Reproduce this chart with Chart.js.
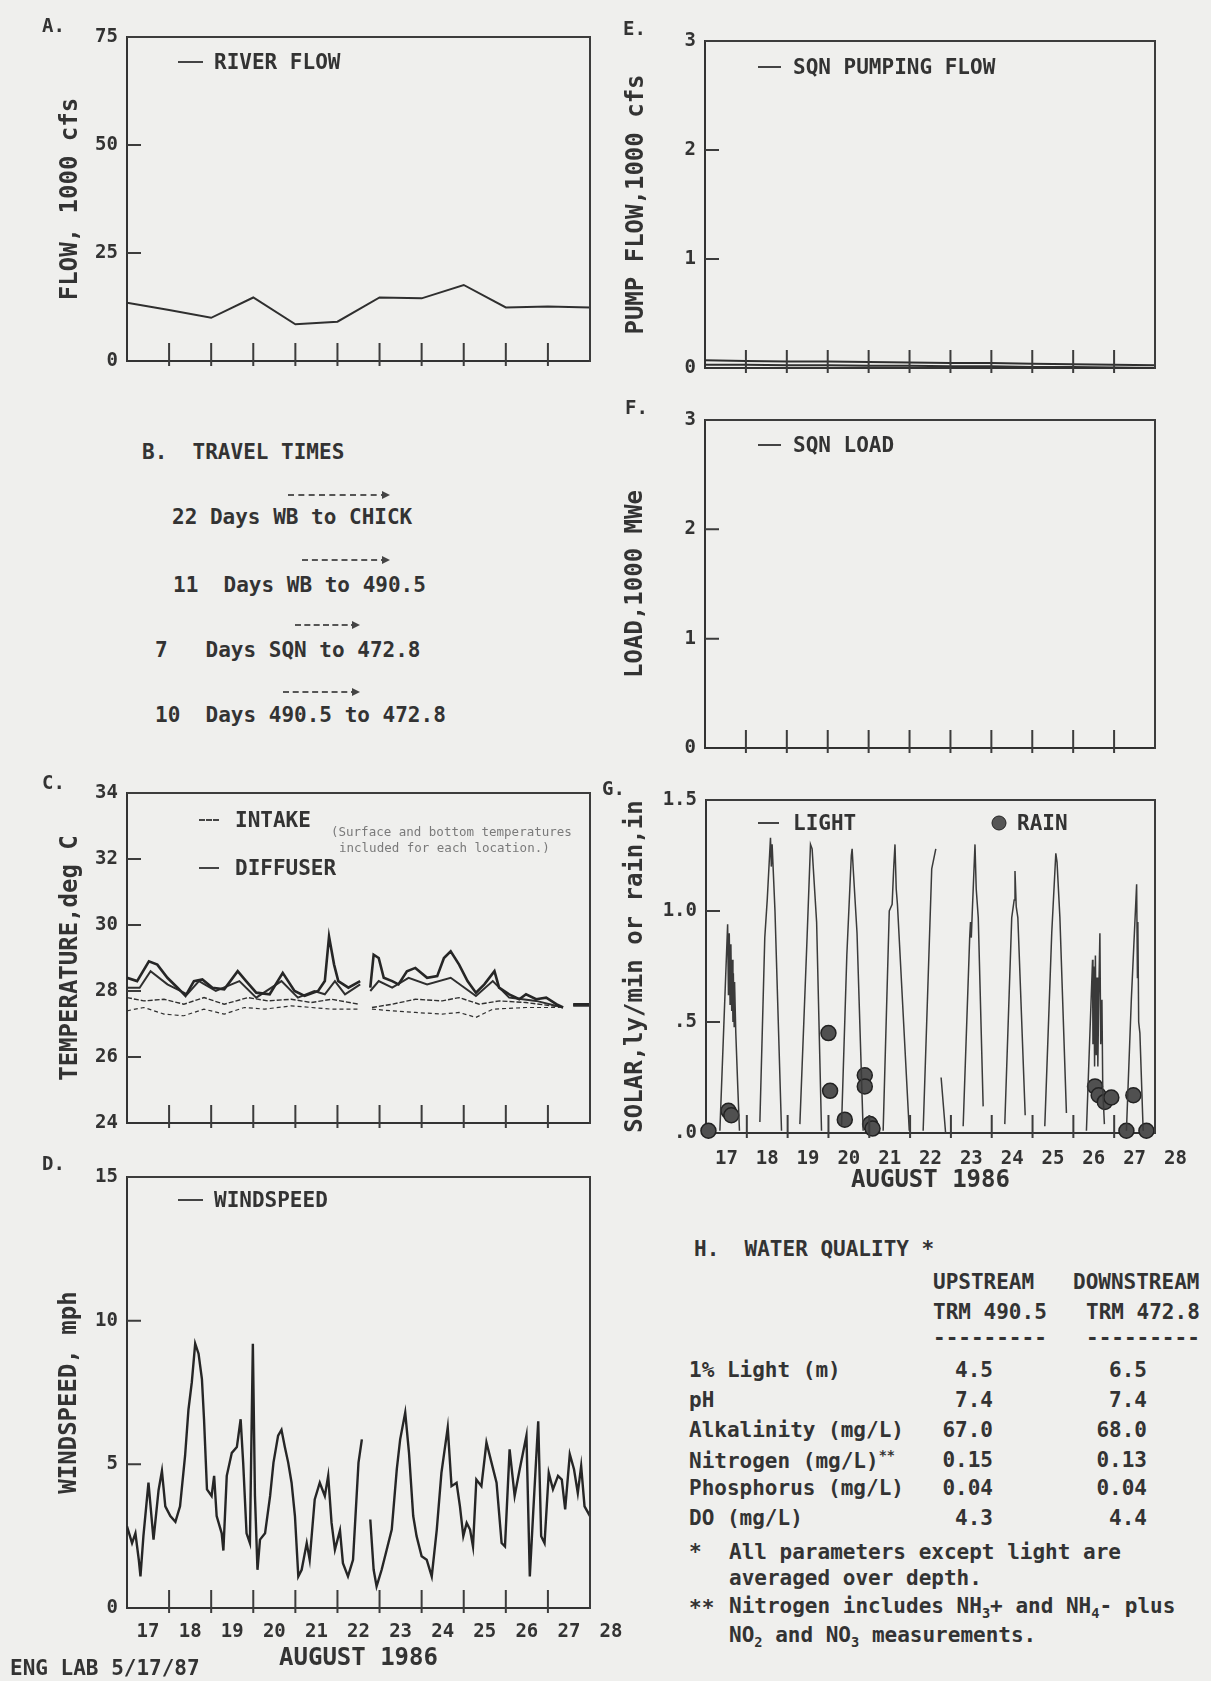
<!DOCTYPE html>
<html><head><meta charset="utf-8">
<script src="https://cdn.jsdelivr.net/npm/chart.js@4.4.1/dist/chart.umd.min.js"></script>
<style>
html,body{margin:0;padding:0;background:#efefed;}
#page{position:relative;width:1211px;height:1681px;overflow:hidden;background:#efefed;font-family:"DejaVu Sans Mono",monospace;font-weight:bold;color:#333;}
canvas{position:absolute;}
.t{position:absolute;white-space:pre;line-height:1;transform:translateY(-50%);}
.r{transform:translate(-100%,-50%);}
.ln{position:absolute;height:0;border-top:2px solid #444;}
.dl{border-top-style:dashed;}
.arrow{position:absolute;height:0;border-top:2px dashed #555;}
.arrow::after{content:'';position:absolute;right:-3px;top:-5px;border-left:8px solid #444;border-top:4px solid transparent;border-bottom:4px solid transparent;}
.dot{position:absolute;width:13px;height:13px;border-radius:50%;background:#555;border:1.5px solid #222;transform:translate(-50%,-50%);}
sub,sup{font-size:65%;}
</style></head><body><div id="page">
<canvas id="cA"></canvas><canvas id="cE"></canvas><canvas id="cF"></canvas>
<canvas id="cC"></canvas><canvas id="cG"></canvas><canvas id="cD"></canvas>
</div>
<script>
// ---------------- data ----------------
const dayLabels = ['17','18','19','20','21','22','23','24','25','26','27','28'];
const flowTicks = ['0','25','50','75'];
const pumpTicks = ['0','1','2','3'];
const loadTicks = ['0','1','2','3'];
const tempTicks = ['24','26','28','30','32','34'];
const solarTicks = ['.0','.5','1.0','1.5'];
const windTicks = ['0','5','10','15'];

const flowDays = [0,1,2,3,4,5,6,7,8,9,10,11];
const riverFlow = [13.5,11.8,10.0,14.7,8.5,9.1,14.7,14.5,17.6,12.4,12.6,12.4];
const pumpFlowA = [0.07,0.065,0.06,0.06,0.055,0.05,0.045,0.045,0.04,0.035,0.03,0.025];
const pumpFlowB = [0.03,0.03,0.025,0.025,0.02,0.02,0.015,0.015,0.01,0.01,0.005,0.0];
const sqnLoad = [0,0,0,0,0,0,0,0,0,0,0,0];

const diffuserSurface = [[0,28.4],[0.24,28.3],[0.52,28.9],[0.72,28.8],[0.96,28.4],[1.2,28.1],[1.39,27.85],[1.59,28.3],[1.79,28.35],[2.03,28.1],[2.31,28.05],[2.63,28.6],[2.83,28.3],[3.07,27.95],[3.39,27.9],[3.7,28.55],[3.98,28.0],[4.22,27.85],[4.54,28.0],[4.7,28.3],[4.8,29.65],[4.92,28.8],[5.02,28.3],[5.26,28.1],[5.54,28.3],[5.66,null],[5.78,28.1],[5.86,29.1],[5.98,29.0],[6.1,28.4],[6.3,28.3],[6.45,28.2],[6.65,28.6],[6.85,28.7],[7.13,28.4],[7.37,28.45],[7.53,29.0],[7.69,29.2],[7.89,28.8],[8.09,28.3],[8.29,27.95],[8.49,28.2],[8.73,28.6],[8.84,28.1],[9.08,27.9],[9.32,27.75],[9.48,27.9],[9.72,27.75],[9.96,27.8],[10.2,27.6],[10.36,27.5],[10.48,null],[10.6,27.6],[11,27.6]];
const diffuserBottom = [[0,28.1],[0.3,28.1],[0.56,28.6],[0.96,28.2],[1.43,27.9],[1.71,28.3],[2.11,28.0],[2.67,28.3],[3.07,27.8],[3.67,28.3],[4.06,27.8],[4.45,28.0],[4.7,27.9],[4.94,28.3],[5.18,27.9],[5.54,28.2],[5.66,null],[5.78,28.0],[5.98,28.3],[6.3,28.1],[6.69,28.4],[7.13,28.2],[7.69,28.4],[8.29,27.85],[8.69,28.3],[9.08,27.8],[9.72,27.7],[10.36,27.5],[10.48,null],[10.6,27.55],[11,27.55]];
const intakeSurface = [[0,27.8],[0.4,27.7],[0.88,27.75],[1.35,27.6],[1.83,27.8],[2.31,27.6],[2.87,27.8],[3.35,27.7],[3.9,27.75],[4.38,27.65],[4.86,27.75],[5.5,27.6],[5.66,null],[5.82,27.5],[6.3,27.6],[6.85,27.75],[7.49,27.7],[7.89,27.8],[8.37,27.6],[8.85,27.7],[9.48,27.65],[10.28,27.52],[10.48,null],[10.6,27.58],[11,27.58]];
const intakeBottom = [[0,27.4],[0.4,27.5],[0.88,27.3],[1.35,27.25],[1.83,27.45],[2.31,27.3],[2.79,27.5],[3.27,27.45],[3.9,27.55],[4.38,27.5],[4.86,27.45],[5.5,27.45],[5.66,null],[5.82,27.45],[6.3,27.4],[6.85,27.35],[7.49,27.3],[7.89,27.35],[8.29,27.2],[8.69,27.45],[9.48,27.5],[10.28,27.5]];

const light = [[0.34,0.01],[0.45,0.55],[0.53,0.94],[0.55,0.62],[0.57,0.9],[0.59,0.58],[0.61,0.85],[0.63,0.55],[0.64,0.78],[0.66,0.5],[0.67,0.72],[0.69,0.48],[0.7,0.68],[0.73,0.45],[0.78,0.2],[0.82,0.01],[0.9,null],
 [1.32,0.05],[1.44,0.88],[1.5,1.05],[1.58,1.33],[1.6,1.2],[1.62,1.3],[1.69,1.0],[1.85,0.01],[1.9,null],
 [2.30,0.04],[2.47,0.85],[2.56,1.3],[2.6,1.28],[2.71,0.95],[2.83,0.01],[2.9,null],
 [3.32,0.03],[3.45,0.8],[3.56,1.25],[3.58,1.28],[3.61,1.18],[3.7,0.9],[3.85,0.01],[3.9,null],
 [4.34,0.01],[4.49,1.0],[4.56,1.03],[4.6,1.2],[4.63,1.3],[4.66,1.1],[4.69,1.03],[4.98,0.01],[5.1,null],
 [5.32,0.01],[5.53,1.19],[5.63,1.28],[5.7,null],[5.76,0.25],[5.87,0.0],[5.95,null],
 [6.30,0.03],[6.46,0.88],[6.48,0.95],[6.5,0.88],[6.52,0.98],[6.59,1.3],[6.62,1.1],[6.67,0.97],[6.79,0.12],[6.9,null],
 [7.32,0.04],[7.49,0.97],[7.55,1.05],[7.57,1.18],[7.6,1.02],[7.64,0.97],[7.82,0.08],[7.9,null],
 [8.30,0.03],[8.47,0.9],[8.57,1.26],[8.6,1.22],[8.67,0.97],[8.83,0.09],[8.9,null],
 [9.32,0.01],[9.47,0.78],[9.48,0.4],[9.5,0.75],[9.52,0.3],[9.54,0.8],[9.56,0.35],[9.58,0.7],[9.6,0.3],[9.62,0.6],[9.65,0.9],[9.67,0.4],[9.7,0.6],[9.72,0.2],[9.76,0.04],[9.9,null],
 [10.30,0.01],[10.42,0.6],[10.55,1.12],[10.57,0.7],[10.58,0.95],[10.6,0.5],[10.63,0.45],[10.71,0.01]];
const rain = [[0.06,0.01],[0.55,0.1],[0.62,0.08],[3.0,0.45],[3.04,0.19],[3.4,0.06],[3.89,0.26],[3.89,0.21],[4.02,0.04],[4.08,0.02],[9.53,0.21],[9.62,0.17],[9.77,0.14],[9.93,0.16],[10.3,0.01],[10.47,0.17],[10.79,0.01]];

const windspeed = [[0,2.84],[0.12,2.26],[0.2,2.6],[0.28,1.68],[0.32,1.1],[0.39,2.5],[0.51,4.36],[0.63,2.38],[0.75,4.1],[0.83,4.77],[0.91,3.54],[1.03,3.2],[1.15,3.0],[1.26,3.54],[1.38,5.3],[1.46,6.9],[1.54,7.86],[1.62,9.2],[1.7,8.85],[1.78,7.97],[1.83,6.57],[1.9,4.13],[2.01,3.9],[2.07,4.6],[2.13,3.2],[2.25,2.6],[2.29,2.0],[2.37,4.6],[2.49,5.4],[2.61,5.6],[2.7,6.57],[2.76,5.06],[2.84,2.6],[2.92,2.26],[2.99,9.2],[3.04,3.9],[3.1,1.33],[3.16,2.38],[3.28,2.6],[3.4,3.9],[3.48,5.06],[3.59,6.0],[3.67,6.2],[3.75,5.6],[3.83,5.06],[3.91,4.36],[3.99,3.2],[4.07,1.1],[4.15,1.33],[4.27,2.26],[4.34,1.68],[4.46,3.78],[4.58,4.36],[4.7,3.9],[4.78,4.6],[4.86,2.96],[4.94,2.03],[5.06,2.7],[5.13,1.56],[5.25,1.1],[5.37,1.68],[5.5,5.06],[5.58,5.87],[5.68,null],[5.78,3.08],[5.86,1.33],[5.93,0.75],[6.05,1.33],[6.17,2.03],[6.29,2.73],[6.41,4.83],[6.49,5.87],[6.61,6.8],[6.7,5.4],[6.8,3.2],[6.88,2.5],[7.0,1.8],[7.12,1.68],[7.24,1.1],[7.36,2.73],[7.47,4.7],[7.62,6.28],[7.71,4.24],[7.83,4.36],[7.91,3.54],[7.99,2.5],[8.07,2.96],[8.15,2.73],[8.22,2.14],[8.3,4.47],[8.42,4.24],[8.54,5.76],[8.66,5.06],[8.78,4.36],[8.9,2.26],[8.98,2.14],[9.09,5.52],[9.21,3.9],[9.33,4.83],[9.49,6.0],[9.57,1.1],[9.65,3.3],[9.77,6.5],[9.84,2.5],[9.92,2.26],[10.02,4.7],[10.12,4.13],[10.24,4.6],[10.33,4.47],[10.41,3.43],[10.52,5.35],[10.62,4.83],[10.71,4.0],[10.79,4.94],[10.87,3.54],[11.0,3.2]];

const travelDays = ['22','11','7','10'];
const travelRoutes = ['WB to CHICK','WB to 490.5','SQN to 472.8','490.5 to 472.8'];
const wqParams = ['1% Light (m)','pH','Alkalinity (mg/L)','Nitrogen (mg/L)<sup>**</sup>','Phosphorus (mg/L)','DO (mg/L)'];
const wqUpstream = ['4.5','7.4','67.0','0.15','0.04','4.3'];
const wqDownstream = ['6.5','7.4','68.0','0.13','0.04','4.4'];

// ---------------- helpers ----------------
const INK = '#333333';
const FONT = '"DejaVu Sans Mono", monospace';
Chart.defaults.font.family = FONT;
Chart.defaults.color = INK;
const toXY = p => p.map(([x,y]) => ({x, y}));
const zipXY = (xs, ys) => xs.map((x,i) => ({x, y: ys[i]}));

function makeFrame(opt) {
  return {
    id: 'frame',
    afterDraw(chart) {
      const {ctx, chartArea: a, scales: {x, y}} = chart;
      ctx.save();
      ctx.strokeStyle = '#3c3c3c'; ctx.lineWidth = 2;
      ctx.beginPath();
      ctx.moveTo(a.left, a.top); ctx.lineTo(a.right, a.top); ctx.lineTo(a.right, a.bottom + 1);
      y.ticks.forEach(t => {
        if (t.value > y.min && t.value < y.max) {
          const py = y.getPixelForValue(t.value);
          ctx.moveTo(a.left, py); ctx.lineTo(a.left + 14, py);
        }
      });
      for (let d = 1; d < 11; d++) {
        const px = x.getPixelForValue(d);
        ctx.moveTo(px, a.bottom - 18); ctx.lineTo(px, a.bottom + 5);
      }
      ctx.stroke();
      if (opt.days) {
        ctx.fillStyle = INK;
        ctx.font = 'bold 19px ' + FONT;
        ctx.textAlign = 'center'; ctx.textBaseline = 'middle';
        dayLabels.forEach((lab, i) => ctx.fillText(lab, x.getPixelForValue(i + 0.5), a.bottom + opt.labelOffset));
      }
      ctx.restore();
    }
  };
}

function panel(id, pos, area, yc, datasets, opt) {
  const cv = document.getElementById(id);
  cv.width = pos.w; cv.height = pos.h;
  Object.assign(cv.style, {left: pos.x + 'px', top: pos.y + 'px', width: pos.w + 'px', height: pos.h + 'px'});
  return new Chart(cv, {
    type: 'line',
    data: {datasets},
    options: {
      responsive: false, animation: false, devicePixelRatio: 1,
      layout: {padding: {left: 0, top: area.t, right: pos.w - area.r, bottom: 0}},
      plugins: {legend: {display: false}, tooltip: {enabled: false}},
      elements: {point: {radius: 0}, line: {tension: 0}},
      scales: {
        x: {type: 'linear', min: 0, max: 11,
            ticks: {display: false}, grid: {display: false, drawTicks: false},
            border: {display: true, color: INK, width: 2},
            title: opt.xTitle ? {display: true, text: opt.xTitle, color: INK,
                   font: {size: 24, weight: 'bold'}, padding: {top: 0, bottom: opt.xTitlePad}} : {display: false},
            afterFit: s => { s.height = pos.h - area.b; }},
        y: {type: 'linear', min: yc.min, max: yc.max,
            ticks: {stepSize: yc.step, padding: 9, color: INK, font: {size: 19, weight: 'bold'},
                    callback: (v, i) => yc.labels[i]},
            grid: {display: false, drawTicks: false},
            border: {display: true, color: INK, width: 2},
            title: {display: true, text: yc.title, color: INK, font: {size: 24, weight: 'bold'},
                    padding: {top: yc.titleX - 14.4, bottom: 0}},
            afterFit: s => { s.width = area.l; }}
      }
    },
    plugins: [makeFrame(opt)]
  });
}
const lineDs = (data, w, dash, col) => ({data, borderColor: col || '#2f2f2f', borderWidth: w || 1.6, borderDash: dash || [], pointRadius: 0, spanGaps: false, fill: false});

// A. river flow
panel('cA', {x: 0, y: 0, w: 600, h: 390}, {l: 127, t: 37, r: 590, b: 361},
  {min: 0, max: 75, step: 25, labels: flowTicks, title: 'FLOW, 1000 cfs', titleX: 71},
  [lineDs(zipXY(flowDays, riverFlow), 2)], {});
// E. pumping flow
panel('cE', {x: 600, y: 0, w: 611, h: 395}, {l: 105, t: 41, r: 555, b: 368},
  {min: 0, max: 3, step: 1, labels: pumpTicks, title: 'PUMP FLOW,1000 cfs', titleX: 37},
  [lineDs(zipXY(flowDays, pumpFlowA), 2), lineDs(zipXY(flowDays, pumpFlowB), 2)], {});
// F. load
panel('cF', {x: 600, y: 380, w: 611, h: 395}, {l: 105, t: 40, r: 555, b: 368},
  {min: 0, max: 3, step: 1, labels: loadTicks, title: 'LOAD,1000 MWe', titleX: 36},
  [lineDs(zipXY(flowDays, sqnLoad), 1.5)], {});
// C. temperature
panel('cC', {x: 0, y: 770, w: 600, h: 385}, {l: 127, t: 23, r: 590, b: 353},
  {min: 24, max: 34, step: 2, labels: tempTicks, title: 'TEMPERATURE,deg C', titleX: 71},
  [lineDs(toXY(diffuserSurface), 2.6, null, '#262626'), lineDs(toXY(diffuserBottom), 2),
   lineDs(toXY(intakeSurface), 1.4, [5, 2]), lineDs(toXY(intakeBottom), 1.2, [4, 3])], {});
// G. solar / rain
panel('cG', {x: 600, y: 770, w: 611, h: 430}, {l: 106, t: 30, r: 555, b: 363},
  {min: 0, max: 1.5, step: 0.5, labels: solarTicks, title: 'SOLAR,ly/min or rain,in', titleX: 36},
  [lineDs(toXY(light), 1.5, null, '#3a3a3a'),
   {data: toXY(rain), showLine: false, pointRadius: 7.5, pointBackgroundColor: '#505050', pointBorderColor: '#222', pointBorderWidth: 1.5, clip: false}],
  {days: true, labelOffset: 26, xTitle: 'AUGUST 1986', xTitlePad: 4.6});
// D. windspeed
panel('cD', {x: 0, y: 1150, w: 640, h: 531}, {l: 127, t: 27, r: 590, b: 458},
  {min: 0, max: 15, step: 5, labels: windTicks, title: 'WINDSPEED, mph', titleX: 70},
  [lineDs(toXY(windspeed), 2.4, null, '#262626')],
  {days: true, labelOffset: 24, xTitle: 'AUGUST 1986', xTitlePad: 7.6});

// ---------------- text overlays ----------------
const page = document.getElementById('page');
function txt(s, x, y, size, cls, extra) {
  const d = document.createElement('div');
  d.className = 't' + (cls ? ' ' + cls : '');
  d.innerHTML = s;
  d.style.left = x + 'px'; d.style.top = y + 'px'; d.style.fontSize = size + 'px';
  if (extra) Object.assign(d.style, extra);
  page.appendChild(d);
}
function seg(x1, x2, y, cls) {
  const d = document.createElement('div');
  d.className = cls;
  d.style.left = x1 + 'px'; d.style.top = (y - 1) + 'px'; d.style.width = (x2 - x1) + 'px';
  page.appendChild(d);
}
// panel letters
txt('A.', 42, 25, 19); txt('E.', 623, 28, 19); txt('F.', 625, 407, 19);
txt('C.', 42, 782, 19); txt('G.', 602, 788, 19); txt('D.', 42, 1163, 19);
// legends
seg(178, 203, 62, 'ln'); txt('RIVER FLOW', 214, 62, 21);
seg(758, 781, 67, 'ln'); txt('SQN PUMPING FLOW', 793, 67, 21);
seg(758, 781, 445, 'ln'); txt('SQN LOAD', 793, 445, 21);
seg(199, 219, 820, 'ln dl'); txt('INTAKE', 235, 820, 21);
seg(199, 219, 868, 'ln'); txt('DIFFUSER', 235, 868, 21);
txt('(Surface and bottom temperatures', 331, 832, 12.5, '', {color: '#7a7a7a', fontWeight: 'normal'});
txt('included for each location.)', 339, 848, 12.5, '', {color: '#7a7a7a', fontWeight: 'normal'});
seg(758, 779, 823, 'ln'); txt('LIGHT', 793, 823, 21);
(() => { const d = document.createElement('div'); d.className = 'dot'; d.style.left = '999px'; d.style.top = '823px'; page.appendChild(d); })();
txt('RAIN', 1017, 823, 21);
seg(178, 203, 1200, 'ln'); txt('WINDSPEED', 214, 1200, 21);

// B. travel times
txt('B.  TRAVEL TIMES', 142, 452, 21);
const travelLeft = [172, 173, 155, 155];
const travelGap = [' ', '  ', '   ', '  '];
const travelY = [517, 585, 650, 715];
const arrowX = [[288, 387], [302, 387], [295, 357], [283, 357]];
const arrowY = [495, 560, 625, 692];
travelDays.forEach((d, i) => {
  txt(d + travelGap[i] + 'Days ' + travelRoutes[i], travelLeft[i], travelY[i], 21);
  seg(arrowX[i][0], arrowX[i][1], arrowY[i], 'arrow');
});

// H. water quality
const HF = 21;
txt('H.  WATER QUALITY *', 694, 1249, HF);
txt('UPSTREAM', 933, 1282, HF); txt('DOWNSTREAM', 1073, 1282, HF);
txt('TRM 490.5', 933, 1312, HF); txt('TRM 472.8', 1086, 1312, HF);
txt('---------', 933, 1338, HF); txt('---------', 1086, 1338, HF);
const wqY = [1370, 1400, 1430, 1460, 1488, 1518];
wqParams.forEach((p, i) => {
  txt(p, 689, wqY[i], HF);
  txt(wqUpstream[i], 993, wqY[i], HF, 'r');
  txt(wqDownstream[i], 1147, wqY[i], HF, 'r');
});
txt('*', 689, 1552, HF); txt('All parameters except light are', 729, 1552, HF);
txt('averaged over depth.', 729, 1578, HF);
txt('**', 689, 1608, HF); txt('Nitrogen includes NH<sub>3</sub>+ and NH<sub>4</sub>- plus', 729, 1608, HF);
txt('NO<sub>2</sub> and NO<sub>3</sub> measurements.', 729, 1637, HF);

txt('ENG LAB 5/17/87', 10, 1668, 21);
</script>
</body></html>
